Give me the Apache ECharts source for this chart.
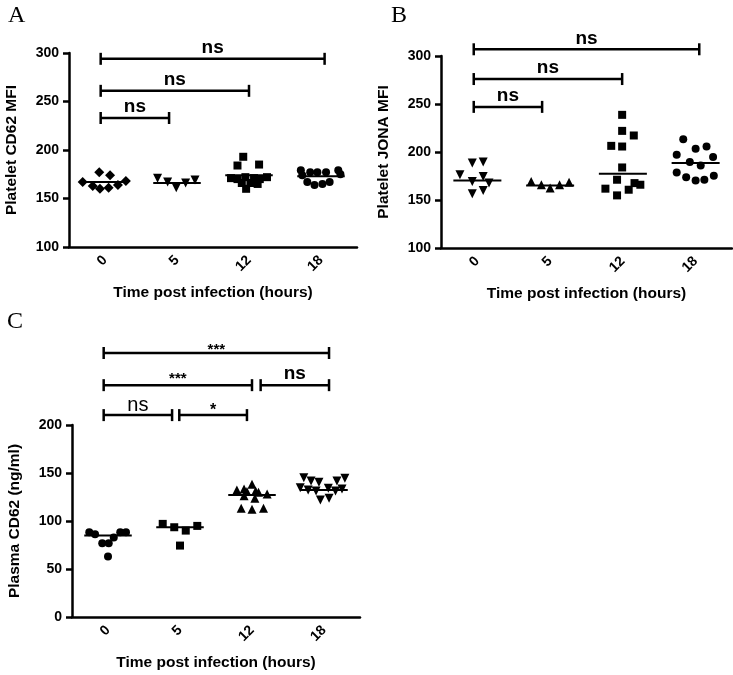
<!DOCTYPE html>
<html><head><meta charset="utf-8">
<script src="https://cdn.jsdelivr.net/npm/echarts@6/dist/echarts.min.js"></script>
<style>html,body{margin:0;padding:0;background:#fff}#c{width:733px;height:675px}</style>
</head><body><div id="c"></div>
<script>
// ---------- data ----------
const categories = ['0', '5', '12', '18'];
const xTitle = 'Time post infection (hours)';

// Panel A: Platelet CD62 MFI
const aVals0 = [167, 163, 177, 160, 161, 174, 164, 168];
const aJit0  = [-0.31, -0.17, -0.08, -0.07, 0.05, 0.07, 0.18, 0.29];
const aVals5 = [171, 167, 161, 166, 169];
const aJit5  = [-0.27, -0.13, -0.01, 0.12, 0.25];
const aVals12 = [193, 184, 185, 171, 170, 172, 171, 170, 172, 166, 166, 165, 160];
const aJit12  = [-0.08, -0.16, 0.14, -0.25, -0.16, -0.05, 0.07, 0.15, 0.25, -0.1, 0.02, 0.12, -0.04];
const aVals18 = [179, 174, 177, 177, 177, 179, 175, 167, 164, 165, 167];
const aJit18  = [-0.28, -0.26, -0.15, -0.05, 0.07, 0.24, 0.27, -0.19, -0.09, 0.02, 0.12];
const aMedians = [167, 166, 174, 173];
const aBrackets = [[-0.06, 3.05, 294, 'ns'], [-0.06, 2.0, 261, 'ns'], [-0.06, 0.89, 233, 'ns']];

// Panel B: Platelet JONA MFI
const bVals0 = [188.5, 189.5, 176.3, 169.3, 174.5, 167.6, 156.5, 160];
const bJit0  = [-0.07, 0.08, -0.24, -0.07, 0.08, 0.16, -0.07, 0.08];
const bVals5 = [169.3, 165.9, 162.5, 165.9, 168.5];
const bJit5  = [-0.26, -0.12, 0, 0.13, 0.26];
const bVals12 = [238.7, 222, 217.2, 206.4, 205.7, 183.9, 171.1, 161.8, 154.8, 160.7, 167.6, 165.9];
const bJit12  = [-0.01, -0.01, 0.15, -0.16, -0.01, -0.01, -0.08, -0.24, -0.08, 0.08, 0.16, 0.24];
const bVals18 = [213.4, 197.1, 203.3, 205.7, 189.5, 186, 194.7, 178.7, 173.8, 170.4, 171.1, 175.3];
const bJit18  = [-0.17, -0.26, 0, 0.15, -0.08, 0.07, 0.24, -0.26, -0.13, 0, 0.12, 0.25];
const bMedians = [170.4, 165.2, 177.3, 188.5];
const bBrackets = [[-0.05, 3.05, 307, 'ns'], [-0.05, 1.99, 276, 'ns'], [-0.05, 0.89, 247, 'ns']];

// Panel C: Plasma CD62 (ng/ml)
const cVals0 = [88.4, 86.3, 76.9, 76.9, 82.7, 88.4, 88.4, 63];
const cJit0  = [-0.26, -0.18, -0.08, 0.01, 0.08, 0.17, 0.25, 0];
const cVals5 = [97, 93.5, 90, 94.9, 74.4];
const cJit5  = [-0.24, -0.08, 0.08, 0.24, 0];
const cVals12 = [132.3, 133.4, 138.3, 130.6, 131.3, 130, 128.2, 126.4, 123.7, 113.3, 112.3, 113.3];
const cJit12  = [-0.21, -0.11, 0, -0.07, 0.05, 0.09, 0.21, -0.11, 0.04, -0.15, 0, 0.16];
const cVals18 = [145.1, 141.7, 140.3, 141.7, 144.5, 134.7, 132.3, 131.3, 134.1, 131.3, 133.4, 121.9, 123.7];
const cJit18  = [-0.28, -0.18, -0.07, 0.18, 0.29, -0.33, -0.22, -0.11, 0.06, 0.16, 0.25, -0.05, 0.07];
const cMedians = [84.8, 93.5, 127, 132.3];
const cBrackets = [[-0.06, 3.07, 275, '***'], [-0.06, 2.0, 241.5, '***'], [2.12, 3.07, 241.5, 'ns'], [-0.06, 0.89, 210.3, 'ns'], [0.99, 1.93, 210.3, '*']];

// ---------- styling ----------
const SANS = '"Liberation Sans", Arial, Helvetica, sans-serif';
const LABEL_STYLES = {
  nsBold: { font: 'bold 19px ' + SANS, off: 11 },
  nsReg:  { font: '20px ' + SANS, off: 10 },
  star3:  { font: 'bold 15px ' + SANS, off: 3 },
  star3b: { font: 'bold 15px ' + SANS, off: 6 },
  star1:  { font: 'bold 16px ' + SANS, off: 5 }
};
const aBracketStyles = ['nsBold', 'nsBold', 'nsBold'];
const bBracketStyles = ['nsBold', 'nsBold', 'nsBold'];
const cBracketStyles = ['star3', 'star3b', 'nsBold', 'nsReg', 'star1'];

const panels = [
  { grid: { left: 69, top: 53, width: 288, height: 194 }, yName: 'Platelet CD62 MFI', yMin: 100, yMax: 300,
    groups: [[aVals0, aJit0, 'diamond', 10, 0], [aVals5, aJit5, 'triangle', 9, 180], [aVals12, aJit12, 'rect', 8, 0], [aVals18, aJit18, 'circle', 8, 0]],
    medians: aMedians, brackets: aBrackets, bStyles: aBracketStyles },
  { grid: { left: 441, top: 56, width: 291, height: 192 }, yName: 'Platelet JONA MFI', yMin: 100, yMax: 300,
    groups: [[bVals0, bJit0, 'triangle', 9, 180], [bVals5, bJit5, 'triangle', 9, 0], [bVals12, bJit12, 'rect', 8, 0], [bVals18, bJit18, 'circle', 8, 0]],
    medians: bMedians, brackets: bBrackets, bStyles: bBracketStyles },
  { grid: { left: 72, top: 425, width: 288, height: 192 }, yName: 'Plasma CD62 (ng/ml)', yMin: 0, yMax: 200,
    groups: [[cVals0, cJit0, 'circle', 8, 0], [cVals5, cJit5, 'rect', 8, 0], [cVals12, cJit12, 'triangle', 9, 0], [cVals18, cJit18, 'triangle', 9, 180]],
    medians: cMedians, brackets: cBrackets, bStyles: cBracketStyles }
];

const axisLineStyle = { color: '#000', width: 2.5 };
const option = { animation: false, backgroundColor: '#fff', grid: [], xAxis: [], yAxis: [], series: [],
  graphic: [
    { type: 'text', left: 8, top: 4, style: { text: 'A', font: '24px "Liberation Serif", "Times New Roman", serif', fill: '#000' } },
    { type: 'text', left: 391, top: 4, style: { text: 'B', font: '24px "Liberation Serif", "Times New Roman", serif', fill: '#000' } },
    { type: 'text', left: 7, top: 310, style: { text: 'C', font: '24px "Liberation Serif", "Times New Roman", serif', fill: '#000' } }
  ]
};

panels.forEach((p, gi) => {
  option.grid.push(Object.assign({ containLabel: false }, p.grid));
  option.xAxis.push({
    type: 'category', gridIndex: gi, data: categories, boundaryGap: true,
    axisLine: { onZero: false, lineStyle: axisLineStyle },
    axisTick: { alignWithLabel: true, length: 6, lineStyle: axisLineStyle },
    axisLabel: { rotate: 45, margin: 11, color: '#000', fontWeight: 'bold', fontSize: 14, fontFamily: SANS },
    splitLine: { show: false },
    name: xTitle, nameLocation: 'middle', nameGap: 38,
    nameTextStyle: { color: '#000', fontWeight: 'bold', fontSize: 15.5, fontFamily: SANS }
  });
  option.xAxis.push({ type: 'value', gridIndex: gi, min: -0.5, max: 3.5, show: false });
  option.yAxis.push({
    type: 'value', gridIndex: gi, min: p.yMin, max: p.yMax, interval: 50,
    axisLine: { show: true, onZero: false, lineStyle: axisLineStyle },
    axisTick: { show: true, length: 6, lineStyle: axisLineStyle },
    axisLabel: { margin: 10, color: '#000', fontWeight: 'bold', fontSize: 14, fontFamily: SANS },
    splitLine: { show: false },
    name: p.yName, nameLocation: 'middle', nameGap: 49, nameRotate: 90,
    nameTextStyle: { color: '#000', fontWeight: 'bold', fontSize: 15.5, fontFamily: SANS }
  });
  p.groups.forEach((g, k) => {
    const [vals, jit, sym, size, rot] = g;
    option.series.push({
      type: 'scatter', xAxisIndex: gi * 2 + 1, yAxisIndex: gi,
      symbol: sym, symbolSize: size, symbolRotate: rot,
      itemStyle: { color: '#000', opacity: 1 }, silent: true,
      data: vals.map((v, i) => [k + jit[i], v])
    });
  });
  option.series.push({
    type: 'custom', xAxisIndex: gi * 2 + 1, yAxisIndex: gi, silent: true, clip: false, z: 4,
    data: p.medians.map((m, k) => [k, m]),
    encode: { x: 0, y: 1 },
    renderItem: (params, api) => {
      const a = api.coord([api.value(0) - 0.33, api.value(1)]);
      const b = api.coord([api.value(0) + 0.33, api.value(1)]);
      return { type: 'line', shape: { x1: a[0], y1: a[1], x2: b[0], y2: b[1] }, style: { stroke: '#000', lineWidth: 2 } };
    }
  });
  const br = p.brackets, bs = p.bStyles;
  option.series.push({
    type: 'custom', xAxisIndex: gi * 2 + 1, yAxisIndex: gi, silent: true, clip: false, z: 5,
    data: br.map(d => [d[0], d[1], d[2]]),
    encode: { x: [0, 1], y: 2 },
    renderItem: (params, api) => {
      const i = params.dataIndex;
      const st = LABEL_STYLES[bs[i]];
      const p1 = api.coord([api.value(0), api.value(2)]);
      const p2 = api.coord([api.value(1), api.value(2)]);
      const ls = { stroke: '#000', lineWidth: 2.5 };
      return { type: 'group', children: [
        { type: 'line', shape: { x1: p1[0], y1: p1[1], x2: p2[0], y2: p2[1] }, style: ls },
        { type: 'line', shape: { x1: p1[0], y1: p1[1] - 6, x2: p1[0], y2: p1[1] + 6 }, style: ls },
        { type: 'line', shape: { x1: p2[0], y1: p2[1] - 6, x2: p2[0], y2: p2[1] + 6 }, style: ls },
        { type: 'text', style: { text: br[i][3], x: (p1[0] + p2[0]) / 2, y: p1[1] - st.off, align: 'center', verticalAlign: 'middle', font: st.font, fill: '#000' } }
      ] };
    }
  });
});

const chart = echarts.init(document.getElementById('c'), null, { renderer: 'canvas' });
chart.setOption(option);
</script></body></html>
